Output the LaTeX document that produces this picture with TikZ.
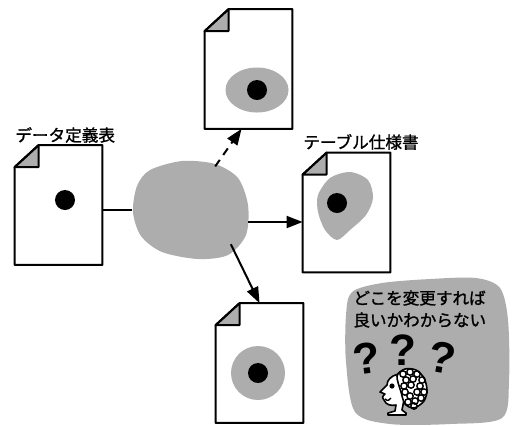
\documentclass[tikz,border=0pt]{standalone}
\usepackage{fontspec}
\newfontfamily\jp{Noto Sans CJK JP}[FakeBold=1.3]
\setsansfont{Liberation Sans}
\usetikzlibrary{arrows.meta,calc,shapes.geometric}

\definecolor{halftone}{gray}{0.68}

\tikzset{
  sheet/.style={minimum width=43.5pt, minimum height=59.5pt, inner sep=0pt},
  dot/.style={circle, fill=black, minimum size=10pt, inner sep=0pt},
  link/.style={line width=1pt},
  flow/.style={link, -{Triangle[length=8pt,width=6pt]}},
  title/.style={font=\jp\fontsize{8.3}{10}\selectfont, inner sep=0pt, anchor=west},
  qmark/.style={font=\sffamily\bfseries\fontsize{22}{22}\selectfont, inner sep=0pt},
}

% sheet outline with the top left corner folded down
\newcommand\sheetframe[1]{%
  \filldraw[fill=halftone, line width=1pt, line join=round]
    ($(#1.north west)+(12pt,0)$) -- ++(0,-11pt) -- ($(#1.north west)+(0,-11pt)$) -- cycle;
  \draw[line width=1pt, line join=round]
    ($(#1.north west)+(12pt,0)$) -- (#1.north east) -- (#1.south east)
    -- (#1.south west) -- ($(#1.north west)+(0,-11pt)$) -- cycle;
}

\begin{document}
\begin{tikzpicture}[x=0.5pt, y=-0.5pt]
\useasboundingbox (0,0) rectangle (512,425);

% the four sheets
\node[sheet] (top) at (248.5,69) {};
\node[sheet] (def) at (58.5,205) {};
\node[sheet] (spec) at (346.5,212.5) {};
\node[sheet] (bottom) at (259.5,363) {};
\foreach \s in {top,def,spec,bottom} {\sheetframe{\s}}

\node[title] (deftitle) at (15,135) {データ定義表};
\node[title] (spectitle) at (303,142) {テーブル仕様書};

% spots on the sheets
\fill[halftone] (257,90) ellipse [x radius=15.75pt, y radius=11.25pt];
\node[dot] (topdot) at (257,90) {};
\node[dot] (defdot) at (65,200) {};
\fill[halftone] plot[smooth cycle] coordinates {(318,195) (330,178) (350,172) (368,180) (373,198)
  (366,215) (350,230) (337,240) (325,230) (318,212)};
\node[dot] (specdot) at (337,203) {};
\fill[halftone] (258,373) circle [radius=13.5pt];
\node[dot] (bottomdot) at (258,373) {};

% cloud in the middle
\node[ellipse, minimum width=57.5pt, minimum height=48pt, inner sep=0pt] (change) at (190,210) {};
\fill[halftone] plot[smooth cycle] coordinates {(150,170) (182,161) (215,164) (238,178) (248,205)
  (246,235) (228,255) (198,259) (162,252) (141,236) (133,212) (137,186)};

\draw[link] (def.east |- change.west) -- (change.west);
\draw[flow, dash pattern=on 4pt off 3pt] (change.60) -- ([xshift=-3.5pt]top.south);
\draw[flow] ([yshift=-6pt]change.east) -- ([yshift=-6pt]change.east -| spec.west);
\draw[flow] (change.-40) -- (bottom.north);

% the puzzled one
\fill[halftone] plot[smooth cycle] coordinates {(352,292) (382,283) (430,279) (476,278) (500,288)
  (508,320) (509,380) (502,418) (450,424) (390,424) (355,412) (346,362) (346,315)};
\node[title] (ask1) at (353,298) {どこを変更すれば};
\node[title] (ask2) at (353,320) {良いかわからない};
\node[qmark, rotate=8] (m1) at (367,358) {?};
\node[qmark] (m2) at (403,350) {?};
\node[qmark, rotate=-10] (m3) at (442,358) {?};

\filldraw[fill=white, line width=0.8pt, line join=round]
  (398,374) .. controls (391,376) and (387,380) .. (387,385) -- (380,392) -- (385,394)
  .. controls (382,397) .. (384,400) .. controls (386,405) and (391,406) .. (396,405)
  -- (395,411) -- (388,413) -- (388,415) -- (406,415) -- (406,413) -- (402,410) -- (404,400) -- cycle;
\filldraw[fill=white, line width=0.8pt] plot[smooth cycle] coordinates {(397,376) (405,369) (416,370) (424,378)
  (427,390) (424,401) (414,408) (405,404) (401,392)};
\foreach \cx/\cy in {403/374,410/372,417/374,422/380,406/380,413/379,420/386,
    404/386,411/385,424/392,417/392,405/392,410/396,421/398,415/401,408/402,414/406}
  \draw[line width=0.7pt] (\cx,\cy) circle [radius=1.6pt];
\fill (392,386) circle [radius=1.3pt];
\draw[line width=0.7pt] (385,399) .. controls (388,401) .. (391,398);
\end{tikzpicture}
\end{document}
